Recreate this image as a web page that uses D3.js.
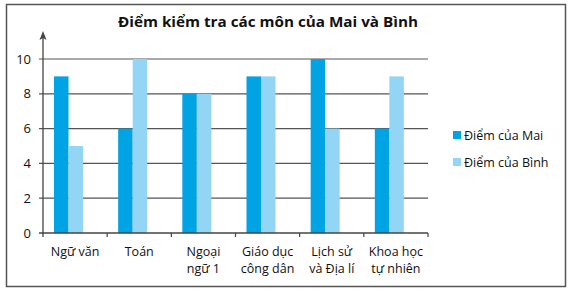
<!DOCTYPE html>
<html>
<head>
<meta charset="utf-8">
<script src="https://cdn.jsdelivr.net/npm/d3@7"></script>
<style>
  body { margin: 0; background: #fff; }
  svg text { font-family: "Open Sans", "Noto Sans", sans-serif; fill: #111; }
</style>
</head>
<body>
<div id="chart"></div>
<script>
var subjects = [["Ngữ văn"], ["Toán"], ["Ngoại", "ngữ 1"], ["Giáo dục", "công dân"], ["Lịch sử", "và Địa lí"], ["Khoa học", "tự nhiên"]];
var maiScores = [9, 6, 8, 9, 10, 6];
var binhScores = [5, 10, 8, 9, 6, 9];
var seriesNames = ["Điểm của Mai", "Điểm của Bình"];
var yTicks = [0, 2, 4, 6, 8, 10];

var width = 572, height = 296;
var svg = d3.select("#chart").append("svg")
    .attr("width", width).attr("height", height);

// frame
svg.append("rect").attr("x", 6.5).attr("y", 4.5)
    .attr("width", 559).attr("height", 282)
    .attr("fill", "none").attr("stroke", "#555").attr("stroke-width", 1.5);

svg.append("text").attr("x", 268).attr("y", 27)
    .attr("text-anchor", "middle")
    .attr("font-size", 14.5).attr("font-weight", "bold")
    .attr("textLength", 300).attr("lengthAdjust", "spacingAndGlyphs")
    .text("Điểm kiểm tra các môn của Mai và Bình");

var keys = subjects.map((d, i) => i);
var x = d3.scaleBand().domain(keys).range([43, 428]);
var y = d3.scaleLinear().domain([0, 10]).range([233, 59]);
var barW = 14.5;
var color = d3.scaleOrdinal().domain(seriesNames).range(["#00a3e3", "#92d5f4"]);

// gridlines
svg.selectAll(".grid").data(yTicks.slice(1)).enter().append("line")
    .attr("x1", 39).attr("x2", 428)
    .attr("y1", d => y(d)).attr("y2", d => y(d))
    .attr("stroke", "#555").attr("stroke-width", 1.2);

svg.selectAll(".ylab").data(yTicks).enter().append("text")
    .attr("x", 31).attr("y", d => y(d) + 4.5)
    .attr("text-anchor", "end").attr("font-size", 13)
    .text(d => d);

// bars
var series = [maiScores, binhScores];
series.forEach(function (vals, s) {
  svg.selectAll(".bar" + s).data(vals).enter().append("rect")
      .attr("x", (d, i) => x(i) + 11 + s * barW)
      .attr("y", d => y(d))
      .attr("width", barW)
      .attr("height", d => y(0) - y(d))
      .attr("fill", color(seriesNames[s]));
});

// axes
svg.append("line").attr("x1", 39).attr("x2", 428).attr("y1", y(0)).attr("y2", y(0))
    .attr("stroke", "#444").attr("stroke-width", 1.3);
svg.append("line").attr("x1", 43).attr("x2", 43).attr("y1", y(0) + 4).attr("y2", 36)
    .attr("stroke", "#444").attr("stroke-width", 1.3);
svg.append("path").attr("d", "M43,31 L39.5,40 L43,38 L46.5,40 Z").attr("fill", "#444");

var bounds = keys.map(k => x(k)).concat([428]);
svg.selectAll(".xt").data(bounds.slice(1)).enter().append("line")
    .attr("x1", d => d).attr("x2", d => d)
    .attr("y1", y(0)).attr("y2", y(0) + 4)
    .attr("stroke", "#444").attr("stroke-width", 1.2);

var xl = svg.selectAll(".xl").data(subjects).enter().append("text")
    .attr("text-anchor", "middle").attr("font-size", 12.5);
xl.selectAll("tspan").data((d, i) => d.map(t => ({ t: t, i: i }))).enter().append("tspan")
    .attr("x", d => x(d.i) + x.bandwidth() / 2)
    .attr("y", (d, j) => 256 + j * 17)
    .text(d => d.t);

// legend
seriesNames.forEach(function (n, i) {
  var ly = 131 + i * 27;
  svg.append("rect").attr("x", 453).attr("y", ly).attr("width", 8).attr("height", 8)
      .attr("fill", color(n));
  svg.append("text").attr("x", 464).attr("y", ly + 8.5)
      .attr("font-size", 12.5).text(n);
});
</script>
</body>
</html>
